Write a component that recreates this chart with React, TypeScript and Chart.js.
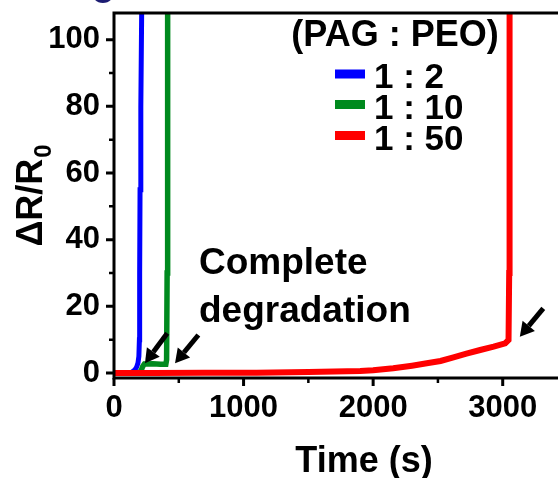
import React, { useEffect, useRef } from "react";
import { Chart, registerables } from "chart.js";

Chart.register(...registerables);

// ---- data (time in s, ΔR/R0) ----
const SERIES_LABELS = ["1 : 2", "1 : 10", "1 : 50"];
const SERIES_COLORS = ["#0000ff", "#008a1e", "#ff0000"];

const TIME_1_2 = [0, 60, 120, 140, 160, 175, 185, 192, 196, 198, 201, 207, 214];
const DR_1_2 = [0, 0, 0, 0.3, 0.9, 1.8, 3, 5, 10, 30, 55, 80, 110];

const TIME_1_10 = [0, 100, 180, 200, 212, 222, 235, 300, 360, 400, 406, 410, 413, 415];
const DR_1_10 = [0, 0, 0, 0.3, 1, 2, 2.7, 2.8, 2.6, 2.6, 4, 30, 70, 110];

const TIME_1_50 = [0, 300, 700, 1100, 1500, 1800, 1900, 2000, 2155, 2300, 2414, 2520, 2620, 2720, 2826, 2930, 3019, 3045, 3050, 3053];
const DR_1_50 = [0, 0, 0.05, 0.1, 0.3, 0.5, 0.6, 0.8, 1.4, 2.2, 2.9, 3.6, 4.7, 5.8, 6.9, 7.9, 8.9, 9.9, 30, 110];

const X_TICKS = [0, 1000, 2000, 3000];
const X_MINOR = [500, 1500, 2500, 3500];
const Y_TICKS = [0, 20, 40, 60, 80, 100];
const Y_MINOR = [10, 30, 50, 70, 90];

const X_TITLE = "Time (s)";
const Y_TITLE_MAIN = "ΔR/R";
const Y_TITLE_SUB = "0";
const LEGEND_TITLE = "(PAG : PEO)";
const NOTE_LINES = ["Complete", "degradation"];
const PANEL_LABEL = "o";

// arrows in data units: [tailT, tailV, tipT, tipV]
const ARROWS = [
  [411, 11.9, 239, 2.9],
  [651, 11.4, 471, 2.9],
  [3313, 19.4, 3132, 10.9],
];

const FONT = "'Liberation Sans', Arial, sans-serif";

function toPoints(ts: number[], vs: number[]) {
  return ts.map((t, i) => ({ x: t, y: vs[i] }));
}

const decorPlugin = {
  id: "decor",
  afterDraw(chart: any) {
    const { ctx, chartArea: ca, scales } = chart;
    const x = scales.x;
    const y = scales.y;
    ctx.save();
    ctx.strokeStyle = "#000";
    ctx.lineCap = "butt";

    // axis lines
    ctx.lineWidth = 3;
    ctx.beginPath();
    ctx.moveTo(ca.left, ca.top - 1.5);
    ctx.lineTo(ca.left, ca.bottom + 1.5);
    ctx.moveTo(ca.left - 1.5, ca.bottom);
    ctx.lineTo(ca.right, ca.bottom);
    ctx.moveTo(ca.left - 1.5, ca.top);
    ctx.lineTo(ca.right, ca.top);
    ctx.stroke();

    // ticks
    ctx.lineWidth = 3;
    ctx.beginPath();
    Y_TICKS.forEach((v) => {
      const p = y.getPixelForValue(v);
      ctx.moveTo(ca.left - 8, p);
      ctx.lineTo(ca.left, p);
    });
    X_TICKS.forEach((v) => {
      const p = x.getPixelForValue(v);
      ctx.moveTo(p, ca.bottom);
      ctx.lineTo(p, ca.bottom + 8);
    });
    ctx.stroke();
    ctx.lineWidth = 2.5;
    ctx.beginPath();
    Y_MINOR.forEach((v) => {
      const p = y.getPixelForValue(v);
      ctx.moveTo(ca.left - 5, p);
      ctx.lineTo(ca.left, p);
    });
    X_MINOR.forEach((v) => {
      const p = x.getPixelForValue(v);
      ctx.moveTo(p, ca.bottom);
      ctx.lineTo(p, ca.bottom + 5);
    });
    ctx.stroke();

    // arrows
    ctx.fillStyle = "#000";
    ARROWS.forEach(([t0, v0, t1, v1]) => {
      const x0 = x.getPixelForValue(t0);
      const y0 = y.getPixelForValue(v0);
      const x1 = x.getPixelForValue(t1);
      const y1 = y.getPixelForValue(v1);
      const ang = Math.atan2(y1 - y0, x1 - x0);
      const headLen = 14;
      const headW = 8;
      const bx = x1 - headLen * Math.cos(ang);
      const by = y1 - headLen * Math.sin(ang);
      ctx.lineWidth = 5;
      ctx.beginPath();
      ctx.moveTo(x0, y0);
      ctx.lineTo(bx, by);
      ctx.stroke();
      ctx.beginPath();
      ctx.moveTo(x1, y1);
      ctx.lineTo(bx + headW * Math.sin(ang), by - headW * Math.cos(ang));
      ctx.lineTo(bx - headW * Math.sin(ang), by + headW * Math.cos(ang));
      ctx.closePath();
      ctx.fill();
    });

    // annotation text
    ctx.fillStyle = "#000";
    ctx.textBaseline = "alphabetic";
    ctx.textAlign = "left";
    ctx.font = `bold 37px ${FONT}`;
    ctx.fillText(NOTE_LINES[0], 199, 274);
    ctx.fillText(NOTE_LINES[1], 199, 322);

    // legend
    ctx.font = `bold 36px ${FONT}`;
    ctx.textAlign = "center";
    ctx.fillText(LEGEND_TITLE, 395, 46);
    ctx.font = `bold 35px ${FONT}`;
    ctx.textAlign = "left";
    const rowY = [88, 118.5, 149.5];
    SERIES_LABELS.forEach((lab, i) => {
      ctx.fillStyle = SERIES_COLORS[i];
      ctx.fillRect(335, rowY[i] - 18.5, 30, 9);
      ctx.fillStyle = "#000";
      ctx.fillText(lab, 374, rowY[i]);
    });

    // x title
    ctx.textAlign = "center";
    ctx.font = `bold 36px ${FONT}`;
    ctx.fillText(X_TITLE, 364, 472);

    // y title (rotated) with subscript
    ctx.save();
    ctx.translate(42, 196);
    ctx.rotate(-Math.PI / 2);
    ctx.font = `bold 36px ${FONT}`;
    const wMain = ctx.measureText(Y_TITLE_MAIN).width;
    ctx.font = `bold 24px ${FONT}`;
    const wSub = ctx.measureText(Y_TITLE_SUB).width;
    const start = -(wMain + wSub) / 2;
    ctx.textAlign = "left";
    ctx.font = `bold 36px ${FONT}`;
    ctx.fillText(Y_TITLE_MAIN, start, 0);
    ctx.font = `bold 24px ${FONT}`;
    ctx.fillText(Y_TITLE_SUB, start + wMain + 1, 9);
    ctx.restore();

    // panel label (cut off at top)
    ctx.fillStyle = "#1c1c72";
    ctx.font = `bold 40px ${FONT}`;
    ctx.textAlign = "center";
    ctx.fillText(PANEL_LABEL, 103, 3);

    ctx.restore();
  },
};

export default function App() {
  const ref = useRef<HTMLCanvasElement | null>(null);
  useEffect(() => {
    if (!ref.current) return;
    const series = [
      { t: TIME_1_2, v: DR_1_2, order: 2, width: 5 },
      { t: TIME_1_10, v: DR_1_10, order: 1, width: 5.5 },
      { t: TIME_1_50, v: DR_1_50, order: 0, width: 6 },
    ];
    const chart = new Chart(ref.current, {
      type: "line",
      data: {
        datasets: series.map((s, i) => ({
          label: SERIES_LABELS[i],
          data: toPoints(s.t, s.v),
          borderColor: SERIES_COLORS[i],
          backgroundColor: SERIES_COLORS[i],
          borderWidth: s.width,
          pointRadius: 0,
          tension: 0,
          fill: false,
          order: s.order,
        })),
      },
      options: {
        responsive: false,
        animation: false,
        events: [],
        layout: { padding: { left: 0, top: 13, right: 32.5, bottom: 0 } },
        plugins: { legend: { display: false }, tooltip: { enabled: false } },
        scales: {
          x: {
            type: "linear",
            min: 0,
            max: 3500,
            grid: { display: false, drawTicks: true, tickLength: 8 },
            border: { display: false },
            ticks: {
              padding: 4,
              color: "#000",
              maxRotation: 0,
              font: { family: FONT, size: 31, weight: "bold" },
              callback: (v: any) => String(v),
            },
            afterBuildTicks: (s: any) => {
              s.ticks = X_TICKS.map((v) => ({ value: v }));
            },
            afterFit: (s: any) => {
              s.height = 100;
              s.paddingLeft = 0;
              s.paddingRight = 0;
            },
          },
          y: {
            type: "linear",
            min: -1.5,
            max: 108,
            grid: { display: false, drawTicks: true, tickLength: 8 },
            border: { display: false },
            ticks: {
              padding: 6,
              color: "#000",
              font: { family: FONT, size: 31, weight: "bold" },
              callback: (v: any) => String(v),
            },
            afterBuildTicks: (s: any) => {
              s.ticks = Y_TICKS.map((v) => ({ value: v }));
            },
            afterFit: (s: any) => {
              s.width = 114;
              s.paddingTop = 0;
              s.paddingBottom = 0;
            },
          },
        },
      },
      plugins: [decorPlugin],
    });
    return () => chart.destroy();
  }, []);
  return (
    <div
      style={{
        position: "absolute",
        left: 0,
        top: 0,
        width: 558,
        height: 478,
        overflow: "hidden",
        background: "#fff",
      }}
    >
      <canvas ref={ref} width={600} height={478} style={{ display: "block" }} />
    </div>
  );
}
